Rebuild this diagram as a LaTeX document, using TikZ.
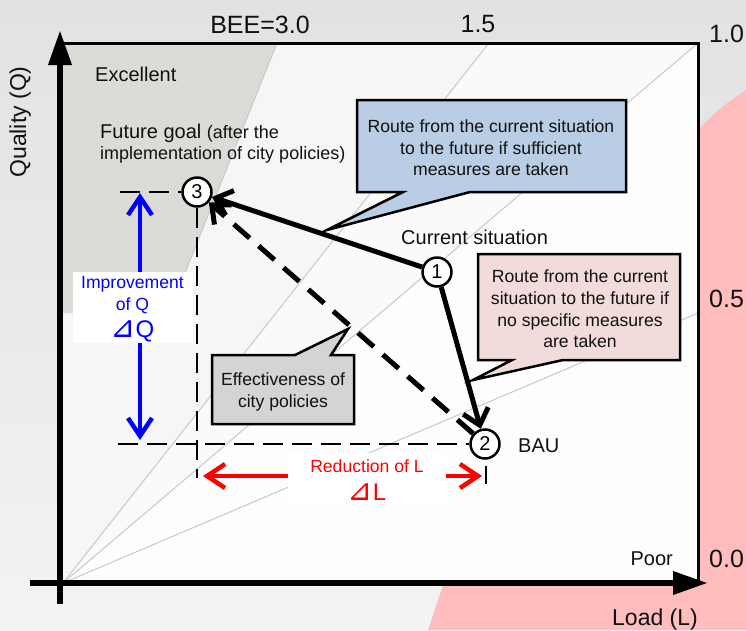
\documentclass[tikz,border=0pt]{standalone}
\usepackage{fontspec}
\setmainfont{Liberation Sans}
\newfontfamily\djv{DejaVu Sans}
\usetikzlibrary{arrows.meta}
\definecolor{bgtop}{RGB}{226,226,226}
\definecolor{bgbot}{RGB}{243,243,243}
\definecolor{pinkbg}{RGB}{255,189,189}
\definecolor{plotbg}{RGB}{253,253,253}
\definecolor{regone}{RGB}{246,246,246}
\definecolor{regtwo}{RGB}{250,250,250}
\definecolor{sgray}{RGB}{221,219,216}
\definecolor{beecol}{RGB}{200,200,200}
\definecolor{cblue}{RGB}{185,205,228}
\definecolor{cpink}{RGB}{242,220,219}
\definecolor{cgray}{RGB}{212,212,212}
\definecolor{ink}{RGB}{17,17,17}
\begin{document}
\begin{tikzpicture}[x=1pt,y=-1pt,
  txt/.style={font=\fontsize{20}{24}\selectfont, inner sep=0pt, text=ink},
  smalltxt/.style={font=\fontsize{17.6}{21.6}\selectfont, inner sep=0pt, text=ink},
  axnum/.style={font=\fontsize{25}{30}\selectfont, inner sep=0pt, text=ink},
  axlab/.style={font=\fontsize{23}{28}\selectfont, inner sep=0pt, text=ink},
  bigdelta/.style={font=\fontsize{24}{28}\selectfont, inner sep=0pt},
  callout/.style={draw=black, line width=2.5pt, line join=miter},
  ptnode/.style={circle, draw=black, fill=white, line width=2.5pt, minimum size=29pt, inner sep=0pt, font=\fontsize{20}{24}\selectfont},
  route/.style={line width=5pt, -{Straight Barb[length=15pt,width=26pt]}},
  guide/.style={line width=2.5pt, dash pattern=on 20pt off 9pt},
  axisline/.style={line width=6.5pt, -{Triangle[length=35pt,width=22pt]}},
  beeline/.style={draw=beecol, line width=1pt},
  dblarrow/.style={line width=4.5pt, {Straight Barb[length=18pt,width=24pt]}-{Straight Barb[length=18pt,width=24pt]}},
  labelbox/.style={fill=white, inner sep=0pt}
]
\useasboundingbox (0,0) rectangle (746,630);
% background
\shade[top color=bgtop, bottom color=bgbot] (0,0) rectangle (746,630);
\fill[pinkbg] (746,90) .. controls (725,104) .. (700,127) -- (443,585) -- (428,630) -- (746,630) -- cycle;
% plot area
\fill[plotbg] (63,43) rectangle (698,583);
\fill[regone] (63,583) -- (63,43) -- (489,43) -- cycle;
\fill[regtwo] (63,583) -- (489,43) -- (698,43) -- cycle;
\fill[sgray] (63,43) -- (277,43) -- (169,313) -- (63,313) -- cycle;
\draw[beeline] (169,313) -- (277,43);
\draw[beeline] (63,583) -- (489,43);
\draw[beeline] (63,583) -- (698,43);
\draw[beeline] (63,583) -- (698,313);
\draw[line width=3pt] (63,43) -- (698,43) -- (698,583);
% axes
\coordinate (yb) at (60,604);
\coordinate (yt) at (60,30);
\coordinate (xl) at (30,583);
\coordinate (xr) at (708,583);
\draw[axisline] (yb) -- (yt);
\draw[axisline] (xl) -- (xr);
% axis texts
\node[axnum, anchor=base] (bee3) at (260,33) {BEE=3.0};
\node[axnum, anchor=base] (bee15) at (478,32) {1.5};
\node[axnum, anchor=base west] (q10) at (709,42) {1.0};
\node[axnum, anchor=base west] (q05) at (709,307) {0.5};
\node[axnum, anchor=base west] (q00) at (709,567) {0.0};
\node[axlab, anchor=base, rotate=90] (qual) at (26,122) {Quality (Q)};
\node[axlab, anchor=base] (load) at (655,625) {Load (L)};
\node[txt, anchor=base west] (exc) at (95,81) {Excellent};
\node[txt, anchor=base east] (poor) at (673,565) {Poor};
\node[txt, anchor=base west] (fut1) at (100,138) {Future goal {\fontsize{18}{22}\selectfont(after the}};
\node[txt, anchor=base west, font=\fontsize{18}{22}\selectfont] (fut2) at (100,159) {implementation of city policies)};
\node[txt, anchor=base west] (cur) at (401,244) {Current situation};
\node[txt, anchor=base west] (bau) at (518,452) {BAU};
% points
\node[ptnode] (c1) at (437,272) {1};
\node[ptnode] (c2) at (485,444) {2};
\node[ptnode] (c3) at (197,192) {3};
% guide lines
\coordinate (g3w) at (120,192);
\coordinate (g3s) at (197,478);
\coordinate (g2w) at (118,444);
\draw[guide] (g3w) -- (c3);
\draw[guide] (c3) -- (g3s);
\draw[guide] (g2w) -- (c2);
\coordinate (tk1) at (486,466);
\coordinate (tk2) at (486,484);
\draw[line width=2.5pt] (tk1) -- (tk2);
% routes
\draw[route] (c1) -- (c3);
\draw[route] (c1) -- (c2);
\draw[route, dash pattern=on 21pt off 12pt] (c2) -- (c3);
% improvement of Q
\coordinate (qt) at (140,193);
\coordinate (qb) at (140,440);
\draw[dblarrow, blue] (qb) -- (qt);
\node[labelbox, minimum width=120pt, minimum height=71pt] (qbox) at (133,307.5) {};
\node[smalltxt, text=blue, anchor=base] (qt1) at (132.5,288) {Improvement};
\node[smalltxt, text=blue, anchor=base] (qt2) at (132.5,310) {of Q};
\node[bigdelta, text=blue, anchor=base] (qt3) at (132.5,337) {{\djv\fontsize{30}{30}\selectfont ⊿}Q};
% reduction of L
\coordinate (lr) at (482,476);
\coordinate (ll) at (203,476);
\draw[dblarrow, red] (lr) -- (ll);
\node[labelbox, minimum width=158pt, minimum height=52pt] (lbox) at (367,479) {};
\node[smalltxt, text=red, anchor=base] (lt1) at (367,472) {Reduction of L};
\node[bigdelta, text=red, anchor=base] (lt2) at (367,500) {{\djv\fontsize{30}{30}\selectfont ⊿}L};
% callouts
\draw[callout, fill=cblue] (357,100) -- (626,100) -- (626,192) -- (470,192) -- (327,230) -- (403,192) -- (357,192) -- cycle;
\node[smalltxt, align=center] (bluetxt) at (491,148) {Route from the current situation\\to the future if sufficient\\measures are taken};
\draw[callout, fill=cpink] (478,254) -- (680,254) -- (680,360) -- (563,360) -- (473,380) -- (512,360) -- (478,360) -- cycle;
\node[smalltxt, align=center] (pinktxt) at (580,309) {Route from the current\\situation to the future if\\no specific measures\\are taken};
\draw[callout, fill=cgray] (212,355) -- (295,355) -- (348,329) -- (331,355) -- (354,355) -- (354,424) -- (212,424) -- cycle;
\node[smalltxt, align=center] (graytxt) at (283,392) {Effectiveness of\\city policies};
\end{tikzpicture}
\end{document}
